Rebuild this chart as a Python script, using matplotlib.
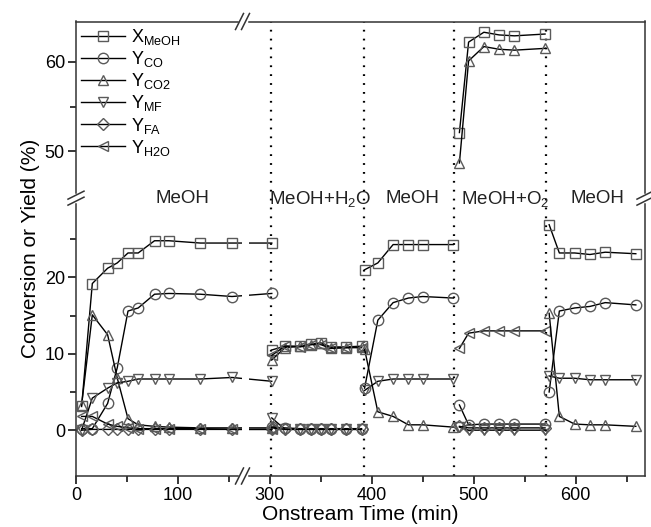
import numpy as np
import matplotlib
matplotlib.use("Agg")
from matplotlib import pyplot as plt
from matplotlib.lines import Line2D

plt.rcParams['font.family'] = ['Liberation Sans', 'DejaVu Sans']
plt.rcParams['mathtext.default'] = 'regular'

# ---- data ----
# stage 1: MeOH
t1 = [5.5, 16, 31, 40.5, 51, 61, 77, 91, 122, 153, 302]
x_meoh1 = [3.1, 19.2, 21.2, 21.9, 23.2, 23.2, 24.8, 24.8, 24.5, 24.5, 24.5]
y_co1 = [0.2, 0.2, 3.5, 8.2, 15.6, 16.0, 17.8, 17.9, 17.8, 17.5, 17.9]
y_co2_1 = [3.3, 15.1, 12.5, 6.8, 1.5, 0.7, 0.5, 0.4, 0.3, 0.3, 0.3]
y_mf1 = [0.0, 4.2, 5.5, 6.2, 6.4, 6.7, 6.7, 6.7, 6.7, 6.9, 6.4]
y_fa1 = [0.0, 0.1, 0.1, 0.1, 0.1, 0.1, 0.1, 0.1, 0.1, 0.1, 0.1]
y_h2o1 = [1.8, 1.8, 0.8, 0.5, 0.3, 0.2, 0.2, 0.2, 0.2, 0.1, 0.1]

# stage 2: MeOH+H2O
t2 = [302, 315, 330, 340, 350, 360, 375, 390]
x_meoh2 = [10.5, 11.0, 11.0, 11.3, 11.4, 10.9, 10.9, 11.0]
y_co2 = [0.4, 0.3, 0.2, 0.2, 0.2, 0.2, 0.2, 0.2]
y_co2_2 = [9.2, 10.8, 11.0, 11.2, 11.4, 10.8, 10.8, 10.9]
y_mf2 = [1.6, 0.1, 0.1, 0.1, 0.1, 0.1, 0.1, 0.1]
y_fa2 = [0.3, 0.1, 0.1, 0.1, 0.1, 0.1, 0.1, 0.1]
y_h2o2 = [9.8, 11.0, 10.9, 11.2, 11.2, 10.7, 10.8, 10.8]

# stage 3: MeOH
t3 = [393, 406, 421, 436, 450, 480]
x_meoh3 = [21.0, 21.9, 24.3, 24.3, 24.3, 24.3]
y_co3 = [5.5, 14.4, 16.7, 17.3, 17.5, 17.3]
y_co2_3 = [10.6, 2.4, 1.8, 0.7, 0.7, 0.4]
y_mf3 = [5.2, 6.4, 6.7, 6.7, 6.7, 6.7]

# stage 4: MeOH+O2
t4 = [486, 495, 510, 525, 540, 570]
x_meoh4 = [52.1, 62.2, 63.3, 63.0, 62.9, 63.1]
y_co4 = [3.3, 0.7, 0.8, 0.8, 0.8, 0.8]
y_co2_4 = [48.7, 60.1, 61.7, 61.4, 61.3, 61.5]
y_mf4 = [0.4, 0.0, 0.0, 0.0, 0.0, 0.0]
y_fa4 = [0.5, 0.3, 0.3, 0.3, 0.3, 0.3]
y_h2o4 = [10.7, 12.7, 13.0, 13.0, 13.0, 13.0]

# stage 5: MeOH
t5 = [574, 584, 599, 614, 629, 659]
x_meoh5 = [26.9, 23.2, 23.2, 23.0, 23.3, 23.1]
y_co5 = [5.0, 15.6, 16.0, 16.2, 16.7, 16.4]
y_co2_5 = [15.3, 1.8, 0.8, 0.7, 0.7, 0.5]
y_mf5 = [7.1, 6.8, 6.8, 6.6, 6.6, 6.6]

switch_times = [301, 392, 481, 571]
stage_labels = ['MeOH', 'MeOH+H$_2$O', 'MeOH', 'MeOH+O$_2$', 'MeOH']
stage_label_x = [104, 349, 440, 531, 621]

series_labels = ['X$_{MeOH}$', 'Y$_{CO}$', 'Y$_{CO2}$', 'Y$_{MF}$', 'Y$_{FA}$', 'Y$_{H2O}$']
markers = ['s', 'o', '^', 'v', 'D', '<']
msizes = [6.5, 7.5, 7.5, 7.5, 6, 7.5]

# ---- broken-axis scales ----
XB = [-1000, 163, 280, 2000]
XT = [-1000, 163, 170, 1890]
YB = [-1000, 30, 45, 1000]
YT = [-7650, 229.5, 234.4, 234.4 + 955 * 8.97]


def fx(x):
    return np.interp(x, XB, XT)


def ix(t):
    return np.interp(t, XT, XB)


def fy(y):
    return np.interp(y, YB, YT)


def iy(t):
    return np.interp(t, YT, YB)


W, H = 651, 527
fig = plt.figure(figsize=(W / 100, H / 100), dpi=100)
L, R, T, B = 76, 645, 21.5, 476
ax = fig.add_axes([L / W, 1 - B / H, (R - L) / W, (B - T) / H])
ax.set_xscale('function', functions=(fx, ix))
ax.set_yscale('function', functions=(fy, iy))
ax.set_xlim(0, 668)
ax.set_ylim(-6, 64.5)

edge = '#5a5a5a'


def curve(t, v, k):
    ax.plot(t, v, color='black', lw=1.0, marker=markers[k], ms=msizes[k],
            mfc='none', mec=edge, mew=1.0, zorder=2)


stages = [
    (t1, [x_meoh1, y_co1, y_co2_1, y_mf1, y_fa1, y_h2o1]),
    (t2, [x_meoh2, y_co2, y_co2_2, y_mf2, y_fa2, y_h2o2]),
    (t3, [x_meoh3, y_co3, y_co2_3, y_mf3, None, None]),
    (t4, [x_meoh4, y_co4, y_co2_4, y_mf4, y_fa4, y_h2o4]),
    (t5, [x_meoh5, y_co5, y_co2_5, y_mf5, None, None]),
]
for t, vals in stages:
    for k, v in enumerate(vals):
        if v is not None:
            curve(t, v, k)

for xs in switch_times:
    ax.axvline(xs, color='black', lw=1.6, ls=(0, (0.8, 3.2)), zorder=1.5)

for x, s in zip(stage_label_x, stage_labels):
    ax.text(x, 37.5, s, ha='center', va='center', fontsize=13.5, color='#222222')

# white band hiding the curves in the x break
ax.axvspan(164, 279, color='white', zorder=2.2, lw=0)

ax.set_xticks([0, 100, 300, 400, 500, 600])
ax.set_xticks([50, 150, 350, 450, 550, 650], minor=True)
ax.set_yticks([0, 10, 20, 50, 60])
ax.set_yticks([5, 15, 25, 55], minor=True)
ax.tick_params(which='major', direction='out', length=6, width=1.1, labelsize=13, pad=2)
ax.tick_params(which='minor', direction='out', length=4, width=1.1)
ax.tick_params(top=False, right=False)
for sp in ax.spines.values():
    sp.set_linewidth(1.1)
    sp.set_color('#333333')

ax.set_xlabel('Onstream Time (min)', fontsize=15, labelpad=1)
ax.set_ylabel('Conversion or Yield (%)', fontsize=15, labelpad=3)

handles = [Line2D([], [], color='black', lw=1.0, marker=m, ms=s, mfc='none',
                  mec=edge, mew=1.0) for m, s in zip(markers, msizes)]
ax.legend(handles, series_labels, loc='upper left', frameon=False, fontsize=13,
          handlelength=2.4, handletextpad=0.35, labelspacing=0.12,
          borderpad=0.2, borderaxespad=0.1, bbox_to_anchor=(0.0, 1.0))


# ---- break marks ----
def px(p):
    return p[0] / W, 1 - p[1] / H


def add_line(p0, p1, **kw):
    (x0, y0), (x1, y1) = px(p0), px(p1)
    fig.add_artist(Line2D([x0, x1], [y0, y1], transform=fig.transFigure, **kw))


def hbreak(cx, cy):
    add_line((cx - 3, cy), (cx + 3, cy), color='white', lw=2.5, zorder=5)
    for d in (-3, 3):
        add_line((cx + d - 4, cy + 8), (cx + d + 4, cy - 8), color='#333333', lw=1.1, zorder=6)


def vbreak(cx, cy):
    add_line((cx, cy - 3), (cx, cy + 3), color='white', lw=2.5, zorder=5)
    for d in (-3, 3):
        add_line((cx - 8, cy + d + 4), (cx + 8, cy + d - 4), color='#333333', lw=1.1, zorder=6)


xb = L + 166.5
yb = B - (6 + 30) * 7.65 - 2.45
hbreak(xb, T)
hbreak(xb, B)
vbreak(L, yb)
vbreak(R, yb)

fig.savefig('out.png', dpi=100)
